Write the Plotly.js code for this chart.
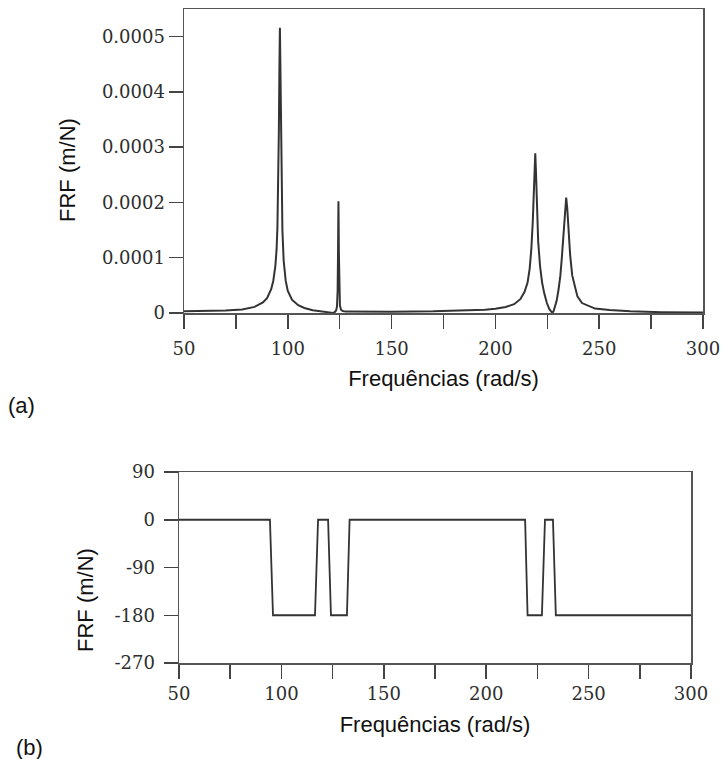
<!DOCTYPE html>
<html>
<head>
<meta charset="utf-8">
<script src="https://cdn.plot.ly/plotly-3.0.1.min.js"></script>
<style>html,body{margin:0;padding:0;background:#fff;}#chart{width:723px;height:759px;}</style>
</head>
<body>
<div id="chart"></div>
<script>
// Panel (a): FRF magnitude
const magFreq = [50, 60, 70, 78, 84, 88, 90, 92, 93, 94, 94.6, 95.0, 95.4, 95.7, 95.95, 96.2, 96.45, 96.7, 97.0, 97.4, 98.0, 99, 100, 102, 105, 108, 112, 116, 119, 121, 121.8, 122.6, 123.3, 123.7, 124.0, 124.2, 124.3, 124.4, 124.5, 124.6, 124.8, 125.1, 125.6, 126.5, 128, 135, 150, 170, 185, 195, 200, 205, 209, 212, 214, 215.5, 216.5, 217.3, 218, 218.6, 219.0, 219.2, 219.5, 220.0, 220.6, 221.5, 222.5, 223.5, 224.8, 226, 227, 227.4, 228, 228.5, 229.5, 230.4, 231.3, 232, 232.8, 233.5, 234.1, 234.6, 235.2, 236, 237, 238.5, 239.5, 241.7, 244, 248, 255, 265, 280, 300];
const magValue = [3.0e-6, 3.6e-6, 4.6e-6, 6.5e-6, 1.1e-5, 1.9e-5, 2.7e-5, 4.3e-5, 5.8e-5, 8.5e-5, 1.15e-4, 1.55e-4, 2.3e-4, 3.3e-4, 4.4e-4, 5.16e-4, 4.4e-4, 3.3e-4, 2.3e-4, 1.5e-4, 9.5e-5, 5.8e-5, 4.0e-5, 2.4e-5, 1.4e-5, 9e-6, 5e-6, 2.8e-6, 1.5e-6, 0.6e-6, 0.2e-6, 1.5e-6, 5e-6, 1.2e-5, 4e-5, 1.1e-4, 1.6e-4, 2.02e-4, 1.6e-4, 1.1e-4, 4e-5, 1.4e-5, 6e-6, 3.5e-6, 2.5e-6, 2.0e-6, 2.3e-6, 3.0e-6, 4.3e-6, 6e-6, 7.5e-6, 1.1e-5, 1.6e-5, 2.5e-5, 3.8e-5, 5.5e-5, 8e-5, 1.15e-4, 1.65e-4, 2.3e-4, 2.75e-4, 2.89e-4, 2.6e-4, 1.9e-4, 1.3e-4, 8.5e-5, 5.5e-5, 3.6e-5, 1.8e-5, 7e-6, 1.5e-6, 0.3e-6, 3e-6, 1e-5, 2.2e-5, 4.2e-5, 6.8e-5, 1.0e-4, 1.5e-4, 1.9e-4, 2.09e-4, 1.9e-4, 1.5e-4, 1.05e-4, 6.8e-5, 4.2e-5, 3e-5, 1.8e-5, 1.4e-5, 8e-6, 5.4e-6, 3e-6, 1.5e-6, 0.8e-6];

// Panel (b): FRF phase
const phaseFreq = [50, 94.4, 95.9, 116.4, 117.9, 122.8, 124.2, 132, 133.3, 219, 220.2, 227.2, 228.7, 232.6, 234, 300];
const phaseValue = [0, 0, -180, -180, 0, 0, -180, -180, 0, 0, -180, -180, 0, 0, -180, -180];

// Tick labels
const freqTicks = [50, 75, 100, 125, 150, 175, 200, 225, 250, 275, 300];
const freqTickText = ['50', '', '100', '', '150', '', '200', '', '250', '', '300'];
const magTicks = [0, 0.0001, 0.0002, 0.0003, 0.0004, 0.0005];
const magTickText = ['0', '0.0001', '0.0002', '0.0003', '0.0004', '0.0005'];
const phaseTicks = [-270, -180, -90, 0, 90];
const phaseTickText = ['-270', '-180', '-90', '0', '90'];

const xTitle = 'Frequências (rad/s)';
const yTitle = 'FRF (m/N)';

const tickFont = {family: 'DejaVu Serif', size: 18, color: '#2e2e2e'};
const titleFont = {family: 'Liberation Sans, Arial, sans-serif', size: 22, color: '#111'};
const W = 723, H = 759;

const axisCommon = {
  showline: true, linecolor: '#555', linewidth: 1.5, mirror: true,
  ticks: 'outside', ticklen: 14, tickwidth: 1.5, tickcolor: '#444',
  showgrid: false, zeroline: false, tickmode: 'array', tickfont: tickFont,
  fixedrange: true
};

const traces = [
  {x: magFreq, y: magValue, type: 'scatter', mode: 'lines', xaxis: 'x', yaxis: 'y',
   line: {color: '#333', width: 2}, hoverinfo: 'skip'},
  {x: phaseFreq, y: phaseValue, type: 'scatter', mode: 'lines', xaxis: 'x2', yaxis: 'y2',
   line: {color: '#333', width: 1.8}, hoverinfo: 'skip'}
];

const layout = {
  width: W, height: H,
  margin: {l: 0, r: 0, t: 0, b: 0},
  paper_bgcolor: '#fff', plot_bgcolor: '#fff',
  showlegend: false,
  xaxis: Object.assign({}, axisCommon, {
    domain: [184 / W, 703 / W], range: [50, 300], anchor: 'y',
    tickvals: freqTicks, ticktext: freqTickText, ticklabelstandoff: 5,
    title: {text: xTitle, font: titleFont, standoff: 12}
  }),
  yaxis: Object.assign({}, axisCommon, {
    domain: [1 - 313 / H, 1 - 9 / H], range: [0, 0.00055], anchor: 'x',
    tickvals: magTicks, ticktext: magTickText
  }),
  xaxis2: Object.assign({}, axisCommon, {
    domain: [179 / W, 691 / W], range: [50, 300], anchor: 'y2',
    tickvals: freqTicks, ticktext: freqTickText,
    title: {text: xTitle, font: titleFont, standoff: 13}
  }),
  yaxis2: Object.assign({}, axisCommon, {
    domain: [1 - 663 / H, 1 - 472 / H], range: [-270, 90], anchor: 'x2',
    tickvals: phaseTicks, ticktext: phaseTickText, ticklabelstandoff: 5
  }),
  annotations: [
    {text: yTitle, xref: 'paper', yref: 'paper', x: 68 / W, y: 1 - 170 / H,
     textangle: -90, showarrow: false, font: titleFont, xanchor: 'center', yanchor: 'middle'},
    {text: yTitle, xref: 'paper', yref: 'paper', x: 85 / W, y: 1 - 600 / H,
     textangle: -90, showarrow: false, font: titleFont, xanchor: 'center', yanchor: 'middle'},
    {text: '(a)', xref: 'paper', yref: 'paper', x: 21 / W, y: 1 - 405 / H,
     showarrow: false, font: titleFont, xanchor: 'center', yanchor: 'middle'},
    {text: '(b)', xref: 'paper', yref: 'paper', x: 29 / W, y: 1 - 747 / H,
     showarrow: false, font: titleFont, xanchor: 'center', yanchor: 'middle'}
  ]
};

Plotly.newPlot('chart', traces, layout, {displayModeBar: false, staticPlot: true});
</script>
</body>
</html>
